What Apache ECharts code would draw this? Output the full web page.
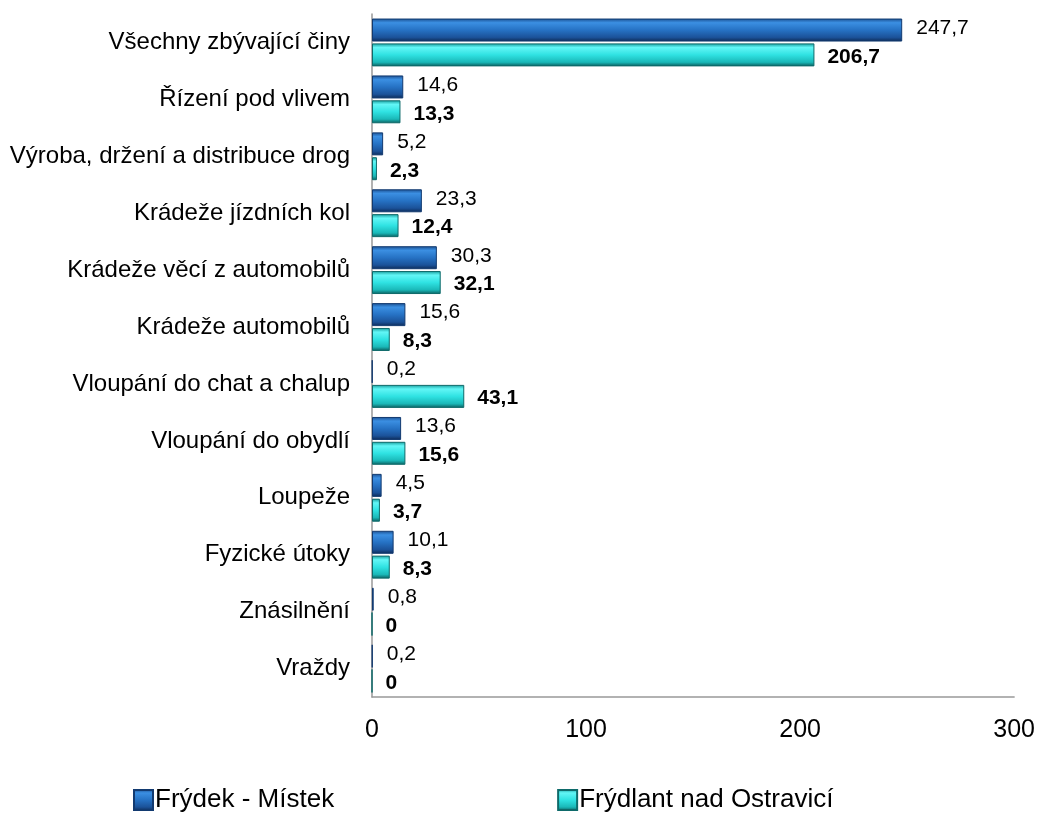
<!DOCTYPE html>
<html>
<head>
<meta charset="utf-8">
<script src="https://cdn.jsdelivr.net/npm/echarts@6/dist/echarts.min.js"></script>
<style>
  html, body { margin: 0; padding: 0; background: #fff; }
  #chart { width: 1038px; height: 813px; }
</style>
</head>
<body>
<div id="chart"></div>
<script>
// Offence categories, listed top to bottom
const categories = [
  'Všechny zbývající činy',
  'Řízení pod vlivem',
  'Výroba, držení a distribuce drog',
  'Krádeže jízdních kol',
  'Krádeže věcí z automobilů',
  'Krádeže automobilů',
  'Vloupání do chat a chalup',
  'Vloupání do obydlí',
  'Loupeže',
  'Fyzické útoky',
  'Znásilnění',
  'Vraždy'
];
const frydekMistek = [247.7, 14.6, 5.2, 23.3, 30.3, 15.6, 0.2, 13.6, 4.5, 10.1, 0.8, 0.2];
const frydlant = [206.7, 13.3, 2.3, 12.4, 32.1, 8.3, 43.1, 15.6, 3.7, 8.3, 0, 0];
const seriesNames = ['Frýdek - Místek', 'Frýdlant nad Ostravicí'];
const xTicks = [0, 100, 200, 300];

const font = 'Liberation Sans, Arial, sans-serif';
const fmt = p => String(p.value).replace('.', ',');

// Bevelled look via vertical gradients
const blueFill = new echarts.graphic.LinearGradient(0, 0, 0, 1, [
  { offset: 0, color: '#1b4f90' },
  { offset: 0.18, color: '#3b8fe2' },
  { offset: 0.5, color: '#2672c4' },
  { offset: 0.82, color: '#1b5299' },
  { offset: 1, color: '#0d2a55' }
]);
const cyanFill = new echarts.graphic.LinearGradient(0, 0, 0, 1, [
  { offset: 0, color: '#169c9c' },
  { offset: 0.18, color: '#62f6f6' },
  { offset: 0.5, color: '#2fe2e2' },
  { offset: 0.82, color: '#1ab8b8' },
  { offset: 1, color: '#0b5c5c' }
]);

const chart = echarts.init(document.getElementById('chart'));
chart.setOption({
  animation: false,
  grid: { left: 372, right: 23, top: 14, bottom: 116, containLabel: false },
  legend: {
    left: 128,
    bottom: -5,
    icon: 'rect',
    itemGap: 223,
    itemWidth: 19,
    itemHeight: 20,
    textStyle: { fontFamily: font, fontSize: 26, color: '#000', padding: [0, 0, 0, -3] },
    data: seriesNames
  },
  xAxis: {
    type: 'value',
    min: xTicks[0],
    max: xTicks[xTicks.length - 1],
    interval: 100,
    splitLine: { show: false },
    axisLine: { show: true, lineStyle: { color: '#999', width: 1.5 } },
    axisTick: { show: false },
    axisLabel: { fontFamily: font, fontSize: 25, color: '#000', margin: 21 }
  },
  yAxis: {
    type: 'category',
    inverse: true,
    data: categories,
    axisLine: { show: true, lineStyle: { color: '#999', width: 1.5 } },
    axisTick: { show: false },
    axisLabel: { fontFamily: font, fontSize: 24, color: '#000', margin: 22 }
  },
  series: [
    {
      name: seriesNames[0],
      type: 'bar',
      data: frydekMistek,
      barWidth: 23,
      barGap: '8%',
      itemStyle: { color: blueFill, borderColor: '#123a70', borderWidth: 1 },
      label: {
        show: true, position: 'right', distance: 14, offset: [0, -2],
        fontFamily: font, fontSize: 21, color: '#000',
        formatter: fmt
      }
    },
    {
      name: seriesNames[1],
      type: 'bar',
      data: frydlant,
      barWidth: 23,
      barGap: '8%',
      itemStyle: { color: cyanFill, borderColor: '#0e6a6a', borderWidth: 1 },
      label: {
        show: true, position: 'right', distance: 13, offset: [0, 2],
        fontFamily: font, fontSize: 21, fontWeight: 'bold', color: '#000',
        formatter: fmt
      }
    }
  ]
});
</script>
</body>
</html>
